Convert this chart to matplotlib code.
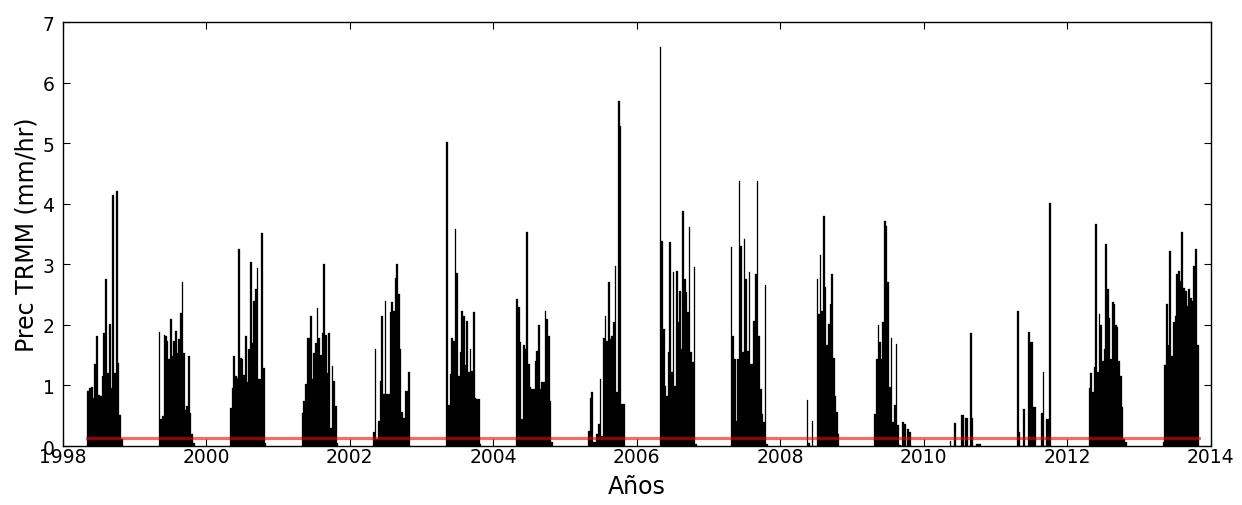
#!/usr/bin/env python3
"""
Serie de precipitacion TRMM (mm/hr), temporada de lluvias 1998-2013,
con la linea del promedio en rojo.
"""

import numpy as np
import matplotlib
matplotlib.use('Agg')
import matplotlib.pyplot as plt

# --- datos -------------------------------------------------------------
# para cada temporada: (inicio, fin) en anos decimales y los valores
# de cada periodo de ~8 dias
season_start = [1998.343, 1999.337, 2000.330, 2001.330, 2002.326, 2003.348,
                2004.323, 2005.320, 2006.320, 2007.310, 2008.370, 2009.310,
                2010.360, 2011.300, 2012.300, 2013.330]
season_end = [1998.840, 1999.838, 2000.840, 2001.840, 2002.837, 2003.836,
              2004.833, 2005.830, 2006.840, 2007.830, 2008.826, 2009.840,
              2010.800, 2011.772, 2012.830, 2013.830]

p1998 = [0.91, 0.95, 0.98, 0.80, 1.36, 1.82, 0.85, 0.83, 1.16, 1.87, 2.75,
         1.21, 2.02, 0.96, 4.15, 1.21, 4.21, 1.37, 0.52, 0.11]
p1999 = [1.88, 0.44, 0.49, 1.84, 1.82, 1.73, 1.43, 2.10, 1.49, 1.73, 1.90,
         1.54, 1.76, 2.20, 2.70, 1.54, 0.60, 0.66, 1.49, 0.55, 0.19, 0.05]
p2000 = [0.62, 0.96, 1.49, 1.16, 1.13, 3.26, 1.46, 1.43, 1.18, 1.82, 1.05,
         1.60, 3.03, 1.70, 2.39, 2.59, 2.94, 1.10, 1.10, 3.52, 1.29, 0.05]
p2001 = [0.55, 0.74, 1.02, 1.79, 1.79, 2.15, 1.10, 1.54, 1.70, 2.28, 1.79,
         1.51, 1.87, 3.00, 1.84, 1.21, 1.87, 0.30, 1.32, 1.07, 0.66, 0.05]
p2002 = [0.23, 1.60, 0.12, 0.42, 1.08, 2.15, 0.86, 2.40, 0.86, 0.86, 2.21,
         2.37, 2.23, 2.78, 3.00, 2.51, 1.60, 0.56, 0.47, 0.91, 0.91, 1.22]
p2003 = [5.02, 0.67, 1.19, 1.79, 1.74, 3.58, 2.86, 1.16, 1.55, 2.23, 2.15,
         1.33, 2.07, 1.22, 1.60, 1.24, 2.21, 0.80, 0.78, 0.78, 0.03]
p2004 = [2.43, 2.29, 1.71, 0.45, 1.66, 1.60, 3.53, 1.35, 0.97, 0.94, 0.94,
         1.41, 1.57, 1.99, 0.94, 1.05, 1.05, 2.23, 2.10, 1.82, 0.75, 0.06]
p2005 = [0.25, 0.80, 0.89, 0.06, 0.06, 0.20, 0.36, 1.10, 0.17, 1.79, 2.15,
         1.74, 2.70, 1.77, 1.82, 2.04, 2.98, 0.89, 5.70, 5.29, 0.69, 0.69]
p2006 = [6.58, 3.39, 1.93, 0.99, 0.83, 1.55, 3.36, 1.22, 2.87, 0.99, 2.89,
         2.04, 2.56, 1.60, 3.88, 2.76, 2.54, 2.21, 3.61, 1.55, 1.38, 2.95, 0.03]
p2007 = [3.28, 1.82, 1.44, 0.41, 1.44, 4.38, 3.31, 1.55, 3.42, 2.76, 1.57,
         2.87, 1.35, 1.35, 2.07, 2.84, 4.38, 1.82, 0.94, 0.53, 0.39, 2.65, 0.03]
p2008 = [0.76, 0.05, 0.00, 0.42, 0.00, 0.00, 2.76, 2.18, 3.15, 2.23, 3.79,
         2.62, 1.66, 2.01, 2.34, 2.84, 1.46, 0.83, 0.56, 0.20]
p2009 = [0.53, 1.44, 1.99, 1.71, 1.44, 2.04, 3.72, 3.64, 2.70, 0.97, 1.79,
         0.39, 0.67, 1.68, 0.34, 0.01, 0.00, 0.39, 0.36, 0.00, 0.28, 0.23, 0.00]
p2010 = [0.09, 0.00, 0.00, 0.38, 0.00, 0.00, 0.00, 0.51, 0.51, 0.00, 0.46,
         0.46, 0.00, 1.86, 0.46, 0.00, 0.00, 0.03, 0.03, 0.03]
p2011 = [2.23, 0.23, 0.00, 0.00, 0.61, 0.00, 0.00, 1.88, 1.72, 1.72, 0.64,
         0.64, 0.00, 0.00, 0.00, 0.54, 1.23, 0.00, 0.45, 0.45, 4.01]
p2012 = [0.95, 1.20, 0.89, 1.30, 3.66, 1.22, 2.18, 1.99, 1.41, 1.60, 3.33,
         2.59, 2.12, 1.44, 2.37, 2.34, 1.99, 1.96, 1.41, 1.16, 0.64, 0.12, 0.06]
p2013 = [0.06, 1.33, 2.34, 1.66, 3.22, 1.49, 2.04, 2.15, 2.84, 2.89, 2.72,
         3.53, 2.61, 2.56, 2.31, 2.59, 2.45, 2.39, 2.97, 3.25, 1.66]

seasons = [p1998, p1999, p2000, p2001, p2002, p2003, p2004, p2005,
           p2006, p2007, p2008, p2009, p2010, p2011, p2012, p2013]

prec_mean = 0.14          # linea roja
xticks = [1998, 2000, 2002, 2004, 2006, 2008, 2010, 2012, 2014]


def season_series():
    """Junta todas las temporadas en (tiempo, valor, ancho)."""
    t, v, w = [], [], []
    for t0, t1, vals in zip(season_start, season_end, seasons):
        dt = (t1 - t0) / len(vals)
        t.extend(t0 + dt * np.arange(len(vals)))
        v.extend(vals)
        w.extend([dt] * len(vals))
    return np.array(t), np.array(v), np.array(w)


t, prec, width = season_series()

fig = plt.figure(figsize=(12.42, 5.06), dpi=100)
ax = fig.add_axes([0.0505, 0.1166, 0.9243, 0.8379])

ax.bar(t, prec, width=width, align='edge', color='k', edgecolor='k',
       linewidth=0.2)
ax.plot([season_start[0], season_end[-1]], [prec_mean, prec_mean],
        color='r', alpha=0.6, lw=2.2)

ax.set_xlim(1998, 2014)
ax.set_ylim(0, 7)
ax.set_xticks(xticks)
ax.set_xticklabels([str(y) for y in xticks])
ax.set_yticks(range(0, 8))
ax.tick_params(direction='in', top=True, right=True, length=5, width=0.8,
               labelsize=13.5)
ax.tick_params(axis='x', pad=0.5)
ax.tick_params(axis='y', pad=6)
for s in ax.spines.values():
    s.set_linewidth(1.0)

ax.set_xlabel('Años', fontsize=17, labelpad=6)
ax.set_ylabel('Prec TRMM (mm/hr)', fontsize=17, labelpad=3)

fig.savefig('out.png', dpi=100)
